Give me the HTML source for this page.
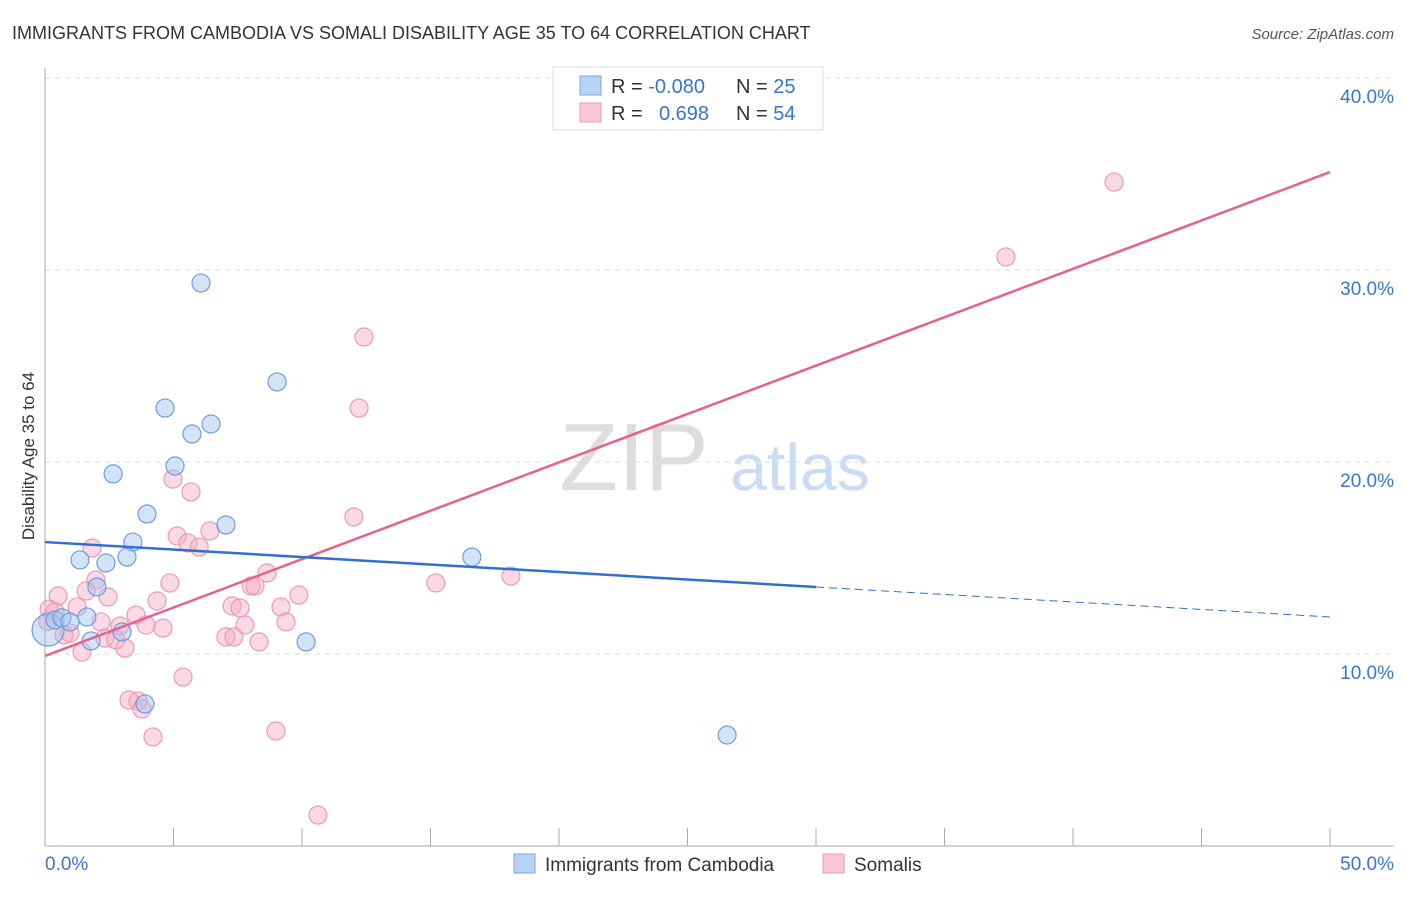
<!DOCTYPE html>
<html><head><meta charset="utf-8"><style>
body{margin:0;background:#fff;font-family:"Liberation Sans",sans-serif;}
svg text{font-family:"Liberation Sans",sans-serif;}
</style></head><body>
<svg id="chart" width="1406" height="892" xmlns="http://www.w3.org/2000/svg">
<text x="12" y="39" font-size="18" fill="#333">IMMIGRANTS FROM CAMBODIA VS SOMALI DISABILITY AGE 35 TO 64 CORRELATION CHART</text>
<text x="1394" y="39" font-size="15" fill="#555" text-anchor="end" font-style="italic">Source: ZipAtlas.com</text>
<text x="634" y="490" font-size="96" fill="#ddd" font-family="Liberation Serif" text-anchor="middle">ZIP</text>
<text x="800" y="490" font-size="66" fill="#c9dcf2" text-anchor="middle">atlas</text>
<g id="grid"></g>
<g id="axes"></g>
<g id="pts"></g>
<g id="lines"></g>
<text transform="translate(34,456) rotate(-90)" font-size="17" fill="#333" text-anchor="middle">Disability Age 35 to 64</text>
<g>
<rect x="553" y="67" width="270" height="63" fill="#fff" stroke="#ddd"/>
<rect x="580" y="76" width="21" height="19" fill="#b8d2f4" stroke="#7aa7e2"/>
<rect x="580" y="103" width="21" height="19" fill="#f9c6d4" stroke="#eb9ab3"/>
<text x="611" y="93" font-size="20" fill="#333">R = <tspan fill="#3a74d0">-0.080</tspan></text>
<text x="736" y="93" font-size="20" fill="#333">N = <tspan fill="#3a74d0">25</tspan></text>
<text x="611" y="120" font-size="20" fill="#333">R = <tspan x="659" fill="#3a74d0">0.698</tspan></text>
<text x="736" y="120" font-size="20" fill="#333">N = <tspan fill="#3a74d0">54</tspan></text>
</g>
<g>
<rect x="514" y="854" width="21" height="19" fill="#b8d2f4" stroke="#7aa7e2"/>
<text x="545" y="871" font-size="19" fill="#333">Immigrants from Cambodia</text>
<rect x="823" y="854" width="21" height="19" fill="#f9c6d4" stroke="#eb9ab3"/>
<text x="854" y="871" font-size="19" fill="#333">Somalis</text>
</g>
</svg>
<script>
const yTicks=[10,20,30,40];
const yTickLabels=["10.0%","20.0%","30.0%","40.0%"];
const xTickLabels=["0.0%","50.0%"];
const cambX=[6.07,9.03,4.67,6.46,5.72,5.06,2.65,3.97,7.04,3.42,1.36,3.19,2.37,16.61,2.02,1.63,3.00,1.79,10.16,3.89,26.54,0.12,0.39,0.66,0.97];
const cambY=[29.32,24.17,22.81,21.98,21.46,19.79,19.38,17.29,16.72,15.83,14.90,15.05,14.74,15.05,13.49,11.93,11.15,10.68,10.63,7.40,5.78,11.25,11.77,11.88,11.67];
const somX=[41.6,37.39,12.41,12.22,4.98,5.68,12.02,6.42,5.14,5.56,6.0,1.83,8.64,18.13,15.21,1.98,4.86,8.02,8.17,1.6,0.51,9.88,2.45,4.36,1.25,7.28,7.59,9.18,0.16,3.54,2.18,9.38,3.93,7.78,2.92,4.59,0.74,0.97,7.04,7.35,2.33,2.76,8.33,3.11,1.44,5.37,3.27,3.62,3.77,8.99,4.20,10.62,0.39,0.1];
const somY=[34.58,30.68,26.51,22.81,19.11,18.44,17.14,16.41,16.15,15.78,15.57,15.52,14.22,14.06,13.70,13.85,13.70,13.54,13.54,13.28,13.02,13.07,12.97,12.76,12.45,12.50,12.40,12.45,12.34,12.03,11.67,11.67,11.51,11.51,11.46,11.35,10.99,11.09,10.89,10.89,10.83,10.73,10.63,10.31,10.10,8.80,7.60,7.55,7.14,5.99,5.68,1.61,12.19,11.7];
const cambTrend=[15.83,-0.078];
const somTrend=[9.90,0.504];
const NS="http://www.w3.org/2000/svg";
const X=v=>45+v*25.7, Y=v=>846-v*19.2;
function mk(t,a,p){const e=document.createElementNS(NS,t);for(const k in a)e.setAttribute(k,a[k]);document.getElementById(p).appendChild(e);return e;}
yTicks.forEach((t,i)=>{
 const l=mk('line',{x1:45,x2:1394,y1:Y(t),y2:Y(t),stroke:'#ddd','stroke-dasharray':'5,5'},'grid');
 
 
 const tx=mk('text',{x:1394,y:Y(t)+25,'font-size':19,fill:'#3a74d0','text-anchor':'end'},'grid');
 tx.textContent=yTickLabels[i];
 
 
});
mk('line',{x1:45,x2:45,y1:68,y2:846,stroke:'#aaa'},'axes');
mk('line',{x1:45,x2:1394,y1:846,y2:846,stroke:'#aaa'},'axes');
for(let i=0;i<=10;i++){const t=mk('line',{x1:X(i*5),x2:X(i*5),y1:828,y2:846,stroke:'#aaa'},'axes');
 
 }
[[0,45,'start'],[50,1394,'end']].forEach((d,i)=>{const t=mk('text',{x:d[1],y:870,'font-size':19,fill:'#3a74d0','text-anchor':d[2]},'axes');t.textContent=xTickLabels[i];
 
 });
somX.forEach((x,i)=>{const c=mk('circle',{cx:X(x),cy:Y(somY[i]),r:9,fill:'rgba(247,170,195,0.45)',stroke:'#eb9ab3','stroke-width':1.2},'pts');
 
 });
cambX.forEach((x,i)=>{const c=mk('circle',{cx:X(x),cy:Y(cambY[i]),r:i==21?16:9,fill:'rgba(160,195,240,0.45)',stroke:'#6d9de0','stroke-width':1.2},'pts');
 
 });
const sl=mk('line',{x1:X(0),y1:Y(somTrend[0]),x2:X(50),y2:Y(somTrend[0]+50*somTrend[1]),stroke:'#e8608e','stroke-width':2.5},'lines');


const cl=mk('line',{x1:X(0),y1:Y(cambTrend[0]),x2:X(30),y2:Y(cambTrend[0]+30*cambTrend[1]),stroke:'#2f6fd0','stroke-width':2.5},'lines');


const cd=mk('line',{x1:X(30),y1:Y(cambTrend[0]+30*cambTrend[1]),x2:X(50),y2:Y(cambTrend[0]+50*cambTrend[1]),stroke:'#2f6fd0','stroke-width':1,'stroke-dasharray':'8,5'},'lines');


</script>
</body></html>
